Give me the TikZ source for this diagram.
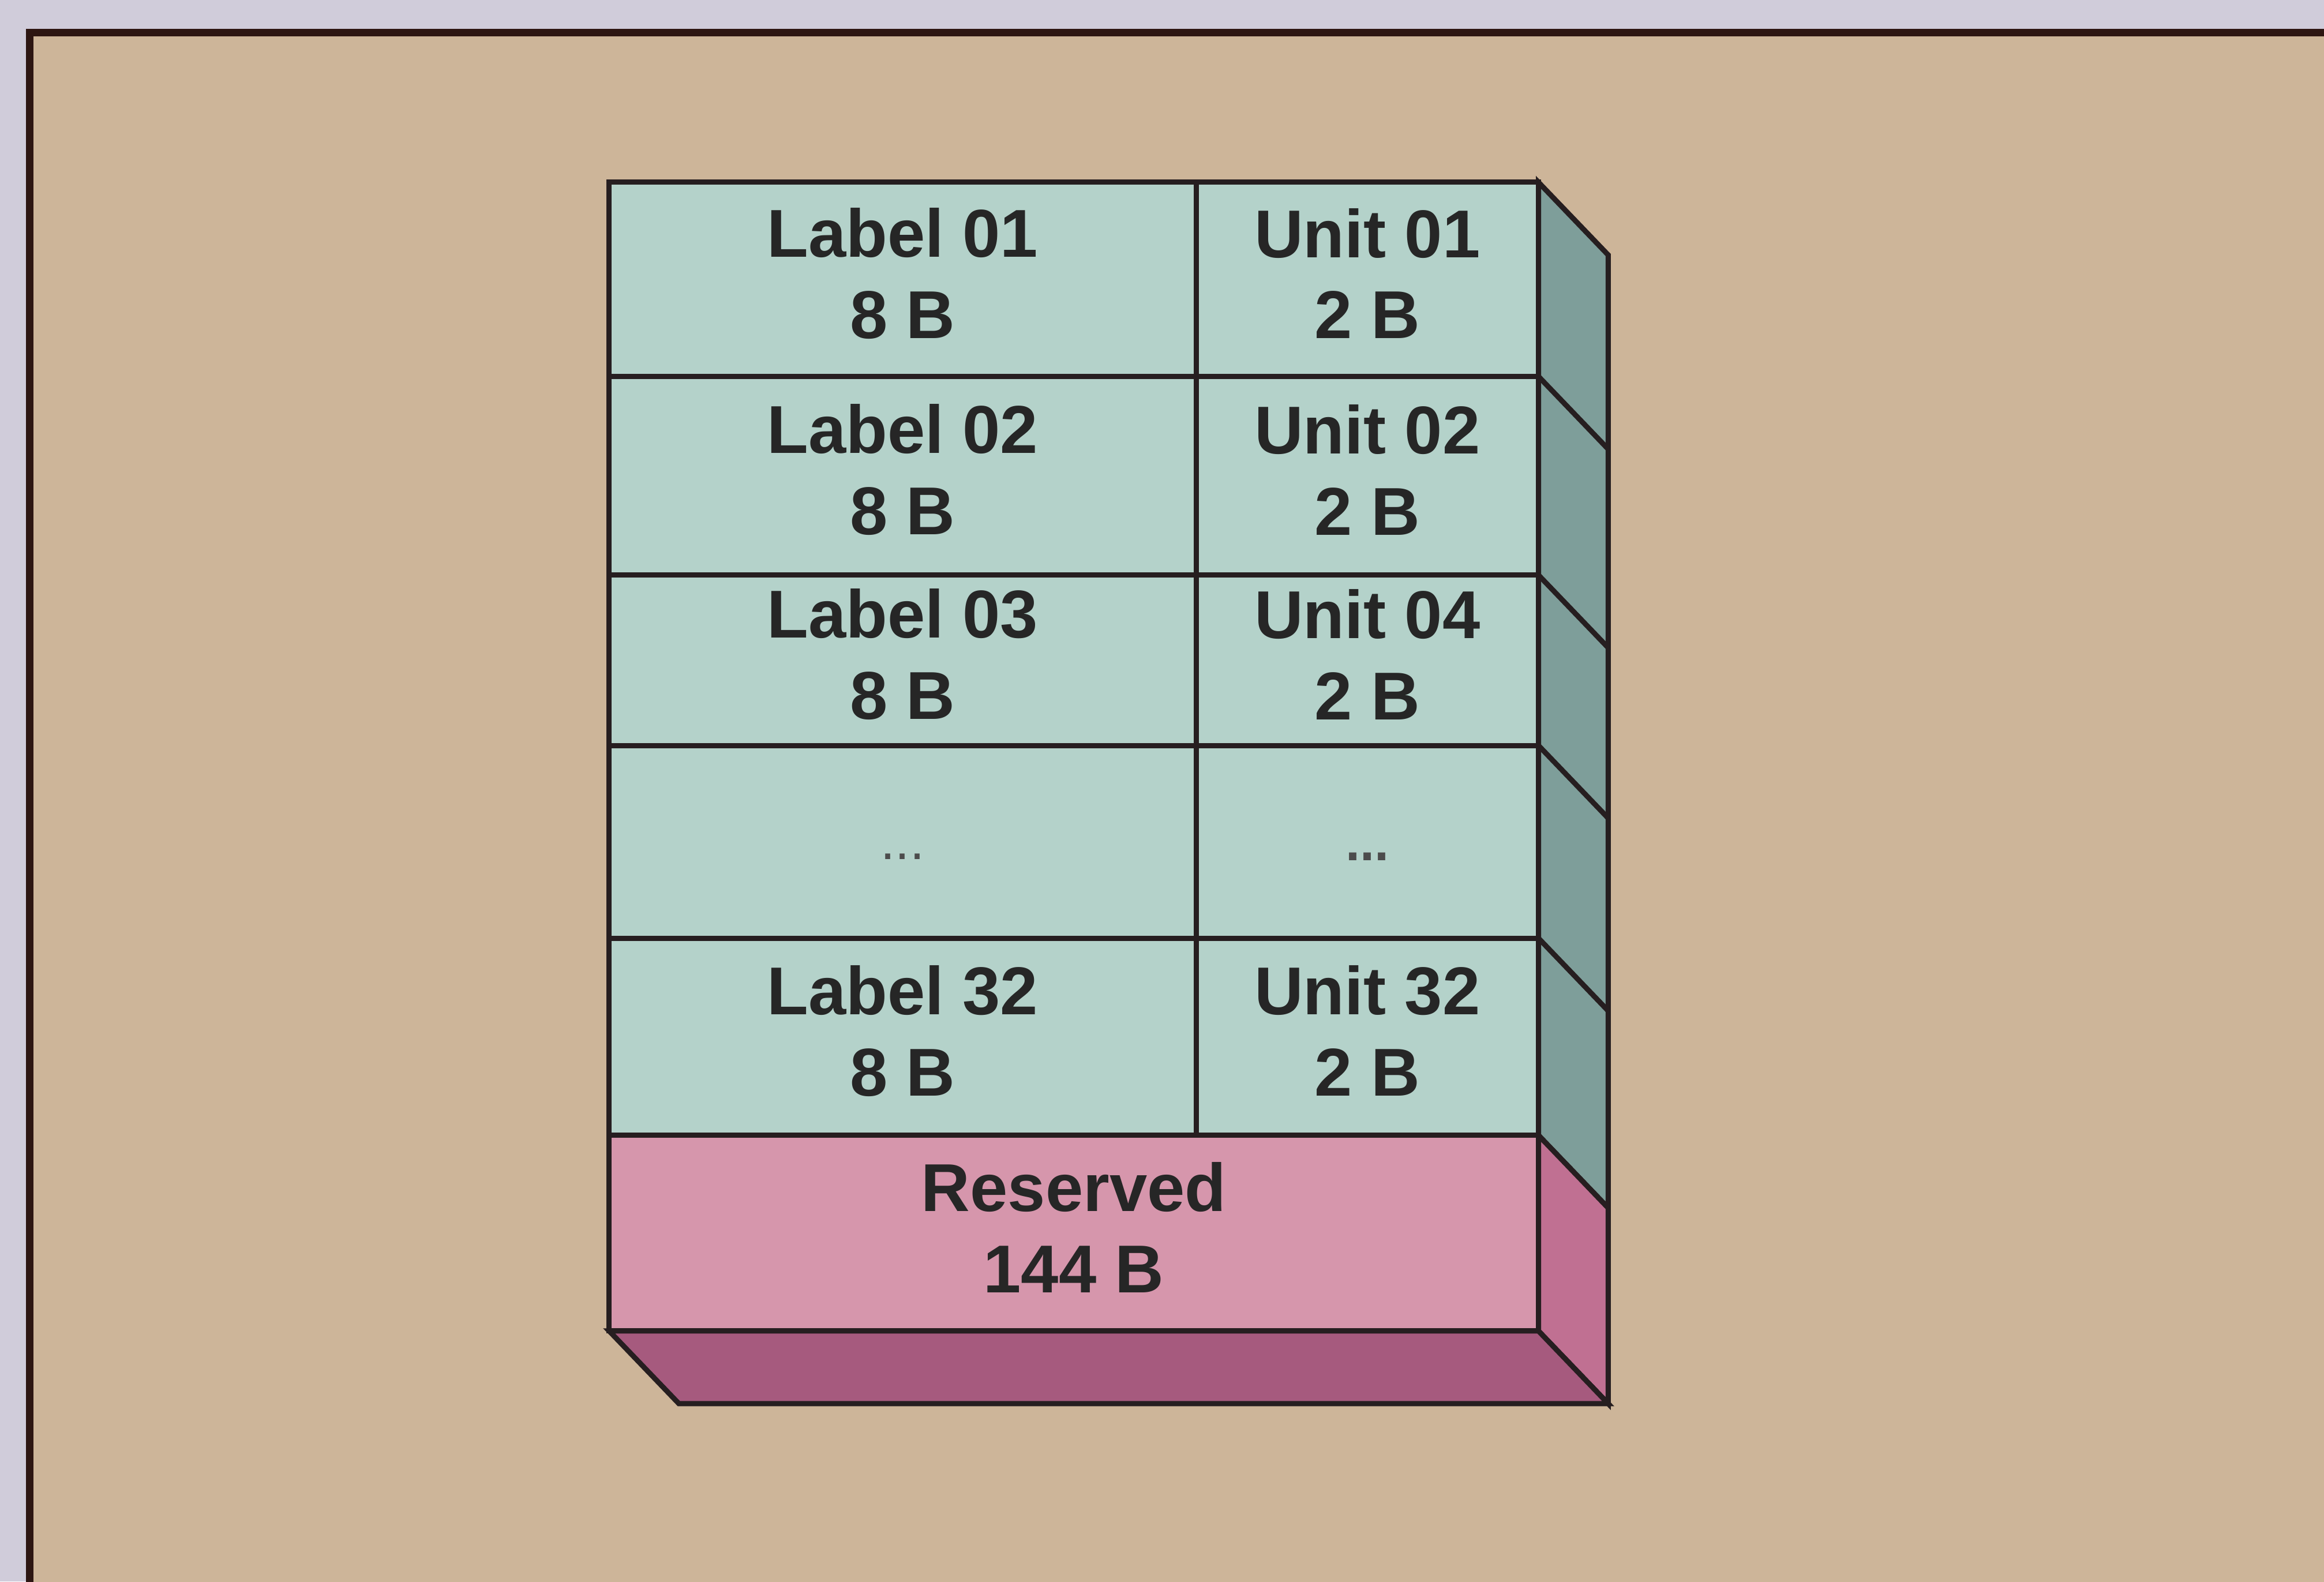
\documentclass[tikz,border=0pt]{standalone}
\usepackage{fontspec}
\setmainfont{Liberation Sans}
\usepackage{xcolor}
\usetikzlibrary{calc}

\definecolor{pagebg}{RGB}{208,204,218}
\definecolor{sheet}{RGB}{205,181,153}
\definecolor{framecol}{RGB}{45,22,18}
\definecolor{cellfront}{RGB}{180,210,202}
\definecolor{cellside}{RGB}{126,158,154}
\definecolor{resfront}{RGB}{214,150,172}
\definecolor{resside}{RGB}{192,112,146}
\definecolor{resbottom}{RGB}{166,90,126}
\definecolor{edge}{RGB}{38,30,32}

\tikzset{
  cell/.style={draw=edge, line width=1pt, fill=cellfront},
  celltext/.style={align=center, yshift=0.04cm, font=\fontsize{13}{15.6}\selectfont\bfseries, text=black!85},
  dotstext/.style={yshift=-0.1cm, font=\fontsize{10}{12}\selectfont, text=black!70}
}

\begin{document}
\begin{tikzpicture}
  \clip (0,0) rectangle (15.68,10.67);
  \fill[pagebg] (0,0) rectangle (15.68,10.67);

  % Sheet
  \draw[framecol, line width=1.4pt, fill=sheet] (0.20,-0.5) rectangle (16.2,10.45);

  % Side face (depth 0.47 right, 0.49 down)
  \draw[cell, fill=cellside] (10.38,9.44) -- (10.85,8.95) -- (10.85,2.52) -- (10.38,3.01) -- cycle;
  \draw[cell, fill=resside] (10.38,3.01) -- (10.85,2.52) -- (10.85,1.20) -- (10.38,1.69) -- cycle;
  \draw[edge, line width=1pt] (10.38,8.13) -- (10.85,7.64);
  \draw[edge, line width=1pt] (10.38,6.79) -- (10.85,6.30);
  \draw[edge, line width=1pt] (10.38,5.64) -- (10.85,5.15);
  \draw[edge, line width=1pt] (10.38,4.34) -- (10.85,3.85);

  % Bottom face
  \draw[cell, fill=resbottom] (4.11,1.69) -- (10.38,1.69) -- (10.85,1.20) -- (4.58,1.20) -- cycle;

  % Label column
  \draw[cell] (4.11,8.13) rectangle (8.07,9.44) node[pos=.5, celltext] (lab1) {Label 01\\8 B};
  \draw[cell] (4.11,6.79) rectangle (8.07,8.13) node[pos=.5, celltext] (lab2) {Label 02\\8 B};
  \draw[cell] (4.11,5.64) rectangle (8.07,6.79) node[pos=.5, celltext] (lab3) {Label 03\\8 B};
  \draw[cell] (4.11,4.34) rectangle (8.07,5.64) node[pos=.5, dotstext] (labdots) {...};
  \draw[cell] (4.11,3.01) rectangle (8.07,4.34) node[pos=.5, celltext] (lab32) {Label 32\\8 B};

  % Unit column
  \draw[cell] (8.07,8.13) rectangle (10.38,9.44) node[pos=.5, celltext] (unit1) {Unit 01\\2 B};
  \draw[cell] (8.07,6.79) rectangle (10.38,8.13) node[pos=.5, celltext] (unit2) {Unit 02\\2 B};
  \draw[cell] (8.07,5.64) rectangle (10.38,6.79) node[pos=.5, celltext] (unit4) {Unit 04\\2 B};
  \draw[cell] (8.07,4.34) rectangle (10.38,5.64) node[pos=.5, dotstext, font=\fontsize{10}{12}\selectfont\bfseries] (unitdots) {...};
  \draw[cell] (8.07,3.01) rectangle (10.38,4.34) node[pos=.5, celltext] (unit32) {Unit 32\\2 B};

  % Reserved
  \draw[cell, fill=resfront] (4.11,1.69) rectangle (10.38,3.01) node[pos=.5, celltext] (res) {Reserved\\144 B};
\end{tikzpicture}
\end{document}
